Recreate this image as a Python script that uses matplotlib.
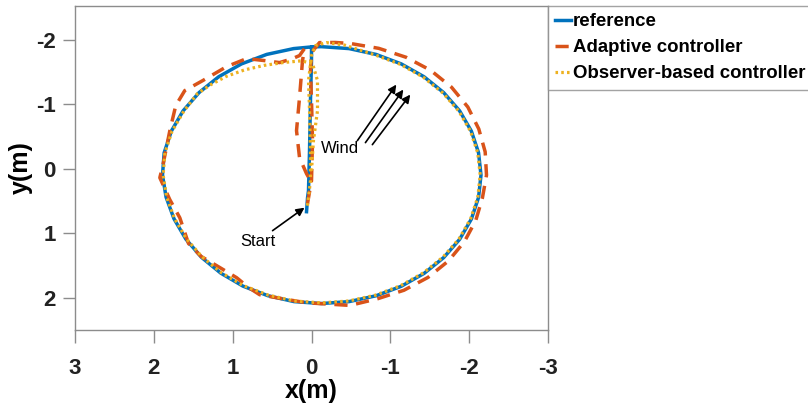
import matplotlib
matplotlib.use("Agg")
import matplotlib.pyplot as plt

plt.rcParams['font.family'] = ['Liberation Sans', 'DejaVu Sans']

# ---- data ----
ref_x = [0.063, 0.050, 0.038, 0.025, 0.013, 0.0, 0.0,
         -0.125, -0.477, -0.818, -1.138, -1.427, -1.676, -1.879, -2.028, -2.119,
         -2.150, -2.119, -2.028, -1.879, -1.676, -1.427, -1.138, -0.818, -0.477,
         -0.125, 0.222, 0.555, 0.870, 1.150, 1.395, 1.595, 1.745, 1.845, 1.890,
         1.869, 1.778, 1.629, 1.426, 1.177, 0.888, 0.568, 0.227, 0.0]
ref_y = [0.667, 0.450, 0.341, -0.279, -1.054, -1.674, -1.886,
         -1.890, -1.860, -1.770, -1.623, -1.424, -1.179, -0.895, -0.581, -0.246,
         0.100, 0.446, 0.781, 1.095, 1.379, 1.624, 1.823, 1.970, 2.060,
         2.090, 2.060, 1.968, 1.820, 1.620, 1.375, 1.090, 0.775, 0.440, 0.100,
         -0.246, -0.581, -0.895, -1.179, -1.424, -1.623, -1.770, -1.860, -1.886]

ada_x = [0.051, 0.0, -0.013, 0.0, 0.013, 0.0, -0.101, -0.300, -0.490, -0.853,
         -1.199, -1.512, -1.776, -1.983, -2.122, -2.203, -2.220, -2.168, -2.084,
         -1.940, -1.737, -1.478, -1.173, -0.835, -0.487, -0.228, 0.063, 0.367,
         0.658, 0.800, 0.949, 1.139, 1.400, 1.560, 1.671, 1.797, 1.924, 1.886,
         1.797, 1.722, 1.608, 1.380, 1.076, 0.823, 0.595, 0.405, 0.241, 0.152,
         0.089, 0.114, 0.152, 0.190, 0.152, 0.063, 0.013]
ada_y = [0.543, 0.186, -0.434, -1.054, -1.519, -1.798, -1.953, -1.955, -1.940,
         -1.864, -1.726, -1.523, -1.262, -0.955, -0.615, -0.260, 0.100, 0.454,
         0.801, 1.130, 1.430, 1.685, 1.884, 2.017, 2.119, 2.100, 2.078, 2.016,
         1.953, 1.840, 1.690, 1.550, 1.360, 1.160, 0.760, 0.481, 0.140, -0.047,
         -0.589, -0.977, -1.209, -1.364, -1.581, -1.705, -1.674, -1.643, -1.705,
         -1.752, -1.860, -1.674, -1.101, -0.589, -0.171, 0.078, 0.186]

obs_x = [0.051, 0.013, 0.013, 0.025, 0.038, 0.0, -0.051, -0.190, -0.418,
         -0.810, -1.130, -1.418, -1.667, -1.870, -2.018, -2.109, -2.140, -2.109,
         -2.018, -1.870, -1.667, -1.418, -1.130, -0.812, -0.474, -0.125, 0.222,
         0.552, 0.865, 1.144, 1.388, 1.588, 1.738, 1.838, 1.882, 1.860, 1.770,
         1.620, 1.450, 1.280, 1.080, 0.850, 0.600, 0.350, 0.130, -0.013, -0.076,
         -0.076, -0.025, 0.0]
obs_y = [0.574, 0.186, -0.279, -0.899, -1.364, -1.752, -1.907, -1.953, -1.915,
         -1.760, -1.615, -1.417, -1.172, -0.890, -0.577, -0.244, 0.100, 0.444,
         0.777, 1.090, 1.372, 1.615, 1.813, 1.960, 2.050, 2.080, 2.050, 1.958,
         1.812, 1.612, 1.368, 1.085, 0.772, 0.440, 0.100, -0.244, -0.578,
         -0.890, -1.160, -1.300, -1.430, -1.530, -1.600, -1.645, -1.670, -1.628,
         -1.364, -0.899, -0.434, 0.031]

labels = ['reference', 'Adaptive controller', 'Observer-based controller']
xticks = [3, 2, 1, 0, -1, -2, -3]
yticks = [-2, -1, 0, 1, 2]

C_BLUE = '#0072BD'
C_ORANGE = '#D95319'
C_YELLOW = '#EDB120'
GRAY = '#8c8c8c'

fig = plt.figure(figsize=(8.08, 4.07), dpi=100)
ax = fig.add_axes([75/808, 1-330/407, (548-75)/808, (330-6)/407])

l1, = ax.plot(ref_x, ref_y, color=C_BLUE, lw=2.5, label=labels[0], zorder=3,
              solid_joinstyle='round')
l2, = ax.plot(ada_x, ada_y, color=C_ORANGE, lw=2.5, dashes=(3.8, 2.5),
              label=labels[1], zorder=4)
l3, = ax.plot(obs_x, obs_y, color=C_YELLOW, lw=2.3, linestyle=(0, (0.8, 1.0)),
              label=labels[2], zorder=5)

ax.set_xlim(3, -3)
ax.set_ylim(2.5, -2.52)
ax.set_xticks(xticks)
ax.set_yticks(yticks)
ax.set_xticklabels([str(t) for t in xticks])
ax.set_yticklabels([str(t) for t in yticks])

for s in ax.spines.values():
    s.set_color(GRAY)
    s.set_linewidth(1.0)
ax.tick_params(axis='both', direction='out', length=9, width=1.0, color=GRAY,
               labelsize=16, labelcolor='#222222')
ax.tick_params(axis='x', pad=11)
ax.tick_params(axis='y', pad=5)
for lab in ax.get_xticklabels() + ax.get_yticklabels():
    lab.set_fontweight('bold')

ax.set_xlabel('x(m)', fontsize=18, fontweight='bold', labelpad=0)
ax.set_ylabel('y(m)', fontsize=18, fontweight='bold', labelpad=2)

# annotations
ax.annotate('', xy=(0.089, 0.605), xytext=(0.494, 0.961),
            arrowprops=dict(arrowstyle='-|>', color='black', lw=1.2,
                            mutation_scale=12, shrinkA=0, shrinkB=0))
ax.text(0.684, 1.132, 'Start', fontsize=12, ha='center', va='center')
for (tx, ty, hx, hy) in [(-0.582, -0.434, -1.076, -1.302),
                         (-0.684, -0.403, -1.165, -1.225),
                         (-0.772, -0.372, -1.253, -1.147)]:
    ax.annotate('', xy=(hx, hy), xytext=(tx, ty),
                arrowprops=dict(arrowstyle='-|>', color='black', lw=1.2,
                                mutation_scale=12, shrinkA=0, shrinkB=0))
ax.text(-0.367, -0.31, 'Wind', fontsize=12, ha='center', va='center')

leg = fig.legend(handles=[l1, l2, l3], labels=labels, loc='upper left',
                 bbox_to_anchor=(548/808, 1-6/407), borderaxespad=0,
                 frameon=True, fancybox=False, handlelength=0.85,
                 handletextpad=0.1, borderpad=0.4, labelspacing=0.48,
                 prop={'weight': 'bold', 'size': 13.4})
leg.get_frame().set_edgecolor(GRAY)
leg.get_frame().set_linewidth(1.0)

fig.savefig('out.png', dpi=100)
